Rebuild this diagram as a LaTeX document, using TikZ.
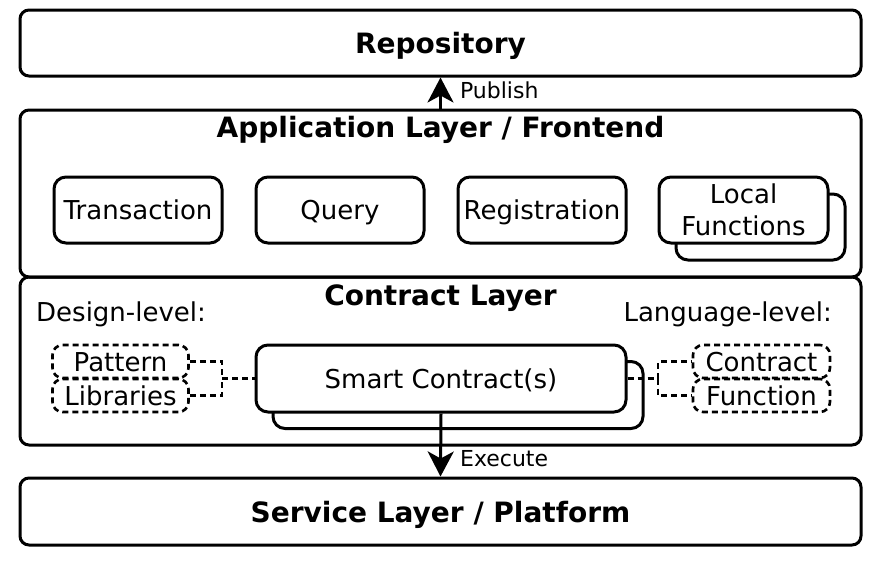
\documentclass[tikz,border=0pt]{standalone}
\usepackage{fontspec}
\setmainfont{DejaVu Sans}
\usetikzlibrary{arrows.meta}
\begin{document}
\begin{tikzpicture}[x=1pt,y=-1pt,
 layer/.style={draw, line width=3pt, rounded corners=9pt, minimum width=841pt, inner sep=0pt},
 box/.style={draw, line width=3pt, rounded corners=12pt, fill=white, minimum width=168pt, minimum height=66pt, inner sep=0pt, font=\fontsize{26}{32}\selectfont, align=center},
 one/.style={text height=19pt, text depth=0pt},
 dbox/.style={draw, dash pattern=on 6pt off 4pt, line width=2.6pt, rounded corners=10pt, minimum width=136pt, minimum height=33pt, inner sep=0pt, font=\fontsize{26}{30}\selectfont, text height=19pt, text depth=0pt},
 conn/.style={line width=2.6pt, dash pattern=on 6pt off 4pt},
 arr/.style={line width=3pt, -{Stealth[length=25pt,width=26pt,inset=7pt]}},
 ttl/.style={font=\fontsize{28}{32}\selectfont\bfseries, inner sep=0pt, text height=20.4pt, text depth=0pt},
 lbl/.style={font=\fontsize{22}{26}\selectfont, inner sep=0pt, text height=16pt, text depth=0pt},
 txt/.style={font=\fontsize{26}{30}\selectfont, inner sep=0pt, text height=19pt, text depth=0pt}
]
\useasboundingbox (0,0) rectangle (888,560);
% layers
\node[layer, minimum height=66pt] (repo) at (440.5,43) {};
\node[ttl] (repot) at (440.5,43) {Repository};
\node[layer, minimum height=167pt] (app) at (440.5,193.5) {};
\node[ttl] (appt) at (440.5,127) {Application Layer / Frontend};
\node[layer, minimum height=168pt] (con) at (440.5,361) {};
\node[ttl] (cont) at (440.5,295) {Contract Layer};
\node[layer, minimum height=67pt] (srv) at (440.5,511.5) {};
\node[ttl] (srvt) at (440.5,512.5) {Service Layer / Platform};
% application boxes
\node[box, one] (tx) at (138,210) {Transaction};
\node[box, one] (qu) at (340,210) {Query};
\node[box, one] (reg) at (542,210) {Registration};
\node[box, minimum width=169pt] (lfs) at (760.5,227) {};
\node[box, minimum width=169pt] (lf) at (743.5,210) {Local\\Functions};
% contract layer
\node[txt, anchor=west] (dl) at (36,312) {Design-level:};
\node[txt, anchor=east] (ll) at (832,312) {Language-level:};
\node[box, minimum width=370pt, minimum height=67pt] (scs) at (458,395) {};
\node[box, one, minimum width=370pt, minimum height=67pt] (sc) at (441,378.5) {Smart Contract(s)};
\node[dbox] (pat) at (120.5,361.5) {Pattern};
\node[dbox] (lib) at (120.5,395.5) {Libraries};
\node[dbox, minimum width=137pt] (ct) at (761.5,361.5) {Contract};
\node[dbox, minimum width=137pt] (fn) at (761.5,395.5) {Function};
\coordinate (jl) at (222,378.5);
\coordinate (jr) at (658,378.5);
\draw[conn] (pat.east) -| (jl);
\draw[conn] (lib.east) -| (jl);
\draw[conn] (jl) -- (sc.west);
\draw[conn] (sc.east) -- (jr);
\draw[conn] (jr) |- (ct.west);
\draw[conn] (jr) |- (fn.west);
% arrows
\draw[arr] (app.north) -- (repo.south) node[lbl, midway, anchor=west, xshift=18pt, yshift=3pt] (pub) {Publish};
\draw[arr] (sc.south) -- (srv.north) node[lbl, pos=0.72, anchor=west, xshift=18pt] (exe) {Execute};
\end{tikzpicture}
\end{document}
